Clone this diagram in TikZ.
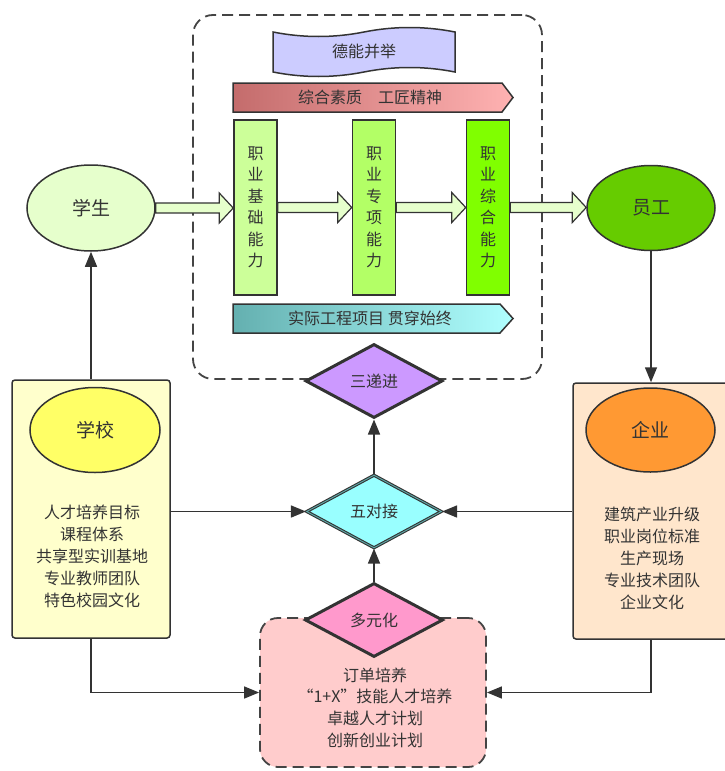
\documentclass[tikz,border=0pt]{standalone}
\usepackage{fontspec}
\setmainfont{Noto Sans CJK SC}
\usetikzlibrary{shapes.geometric,arrows.meta,calc}
\definecolor{ln}{HTML}{333333}
\definecolor{dashc}{HTML}{444444}
\definecolor{stuc}{HTML}{E6FFCC}
\definecolor{empc}{HTML}{66CC00}
\definecolor{schc}{HTML}{FFFFCC}
\definecolor{schell}{HTML}{FFFF66}
\definecolor{entc}{HTML}{FFE6CC}
\definecolor{entell}{HTML}{FF9933}
\definecolor{sdjc}{HTML}{CC99FF}
\definecolor{wdjc}{HTML}{99FFFF}
\definecolor{wdjin}{HTML}{5FA8A8}
\definecolor{dyhc}{HTML}{FF99CC}
\definecolor{botc}{HTML}{FFCCCC}
\definecolor{dnbjc}{HTML}{CCCCFF}
\definecolor{bxa}{HTML}{CCFF99}
\definecolor{bxb}{HTML}{B3FF66}
\definecolor{bxc}{HTML}{80FF00}
\definecolor{arrc}{HTML}{E6FFCC}
\definecolor{redL}{RGB}{196,108,108}
\definecolor{redR}{RGB}{255,178,178}
\definecolor{cyL}{RGB}{100,176,176}
\definecolor{cyR}{RGB}{176,255,255}
\newcommand\blockarrow[2]{%
  \draw[draw=ln, line width=1.2pt, fill=arrc, line join=miter]
    let \p1=(#1), \p2=(#2) in
    (\x1,\y1+5pt) -- (\x2-14pt,\y1+5pt) -- (\x2-14pt,\y1+15pt) -- (\x2,\y1)
    -- (\x2-14pt,\y1-15pt) -- (\x2-14pt,\y1-5pt) -- (\x1,\y1-5pt) -- cycle;}
\begin{document}
\begin{tikzpicture}[x=1pt,y=-1pt,
  every node/.style={text=ln, font=\fontsize{16}{21.5}\selectfont},
  conn/.style={draw=ln, line width=1.5pt, -{Triangle[length=15pt,width=12pt]}},
  ell/.style={ellipse, draw=ln, line width=1.5pt, inner sep=0pt, font=\fontsize{19}{22}\selectfont},
  vbox/.style={rectangle, draw=ln, line width=1.5pt, inner sep=0pt, align=center, minimum width=43pt, minimum height=175pt},
  dia/.style={diamond, draw=ln, line width=3pt, inner sep=0pt, aspect=1.85},
  panel/.style={rectangle, draw=ln, line width=1.5pt, rounded corners=3pt, inner sep=0pt},
  dashbox/.style={rectangle, draw=dashc, line width=1.8pt, dash pattern=on 11pt off 6pt, rounded corners=20pt, inner sep=0pt},
  list/.style={align=center, font=\fontsize{16}{22}\selectfont},
  banner/.style={draw=ln, line width=1.5pt, line join=miter}
]
\useasboundingbox (0,0) rectangle (725,771);

% upper stage
\node[dashbox, minimum width=349pt, minimum height=364pt] (stage) at (367.5,197) {};

% wave banner
\draw[banner, fill=dnbjc] (273,32) .. controls (303.3,38) and (333.7,38) .. (364,32)
  .. controls (394.3,26) and (424.7,26) .. (455,32) -- (455,72)
  .. controls (424.7,66) and (394.3,66) .. (364,72)
  .. controls (333.7,78) and (303.3,78) .. (273,72) -- cycle;
\node (dnbj) at (364,51) {德能并举};

% banner arrows
\draw[banner, left color=redL, right color=redR] (233,83) -- (502,83) -- (513,97.5) -- (502,112) -- (233,112) -- cycle;
\node (zhsz) at (370,97.5) {综合素质\quad 工匠精神};
\draw[banner, left color=cyL, right color=cyR] (233,304) -- (500,304) -- (513,318.5) -- (500,333) -- (233,333) -- cycle;
\node (sjgc) at (370,318.5) {实际工程项目 贯穿始终};

% three ability boxes
\node[vbox, fill=bxa] (b1) at (255.5,207.5) {职\\业\\基\\础\\能\\力};
\node[vbox, fill=bxb] (b2) at (374,207.5) {职\\业\\专\\项\\能\\力};
\node[vbox, fill=bxc] (b3) at (488,207.5) {职\\业\\综\\合\\能\\力};

% student / employee
\node[ell, fill=stuc, minimum width=128pt, minimum height=86pt] (stu) at (91,208) {学生};
\node[ell, fill=empc, minimum width=128pt, minimum height=85pt] (emp) at (651,208) {员工};

\blockarrow{stu.east}{b1.west |- stu.east}
\blockarrow{b1.east}{b2.west |- b1.east}
\blockarrow{b2.east}{b3.west |- b2.east}
\blockarrow{b3.east}{emp.west |- b3.east}

% school panel
\node[panel, fill=schc, minimum width=158pt, minimum height=258pt] (schoolbox) at (91,509) {};
\node[ell, fill=schell, minimum width=130pt, minimum height=85pt] (sch) at (95,430) {学校};
\node[list] (schtxt) at (92,556) {人才培养目标\\课程体系\\共享型实训基地\\专业教师团队\\特色校园文化};

% enterprise panel
\node[panel, fill=entc, minimum width=156pt, minimum height=256pt] (entbox) at (651,511) {};
\node[ell, fill=entell, minimum width=129pt, minimum height=84pt] (ent) at (650.5,430) {企业};
\node[list] (enttxt) at (652,558.5) {建筑产业升级\\职业岗位标准\\生产现场\\专业技术团队\\企业文化};

% bottom panel
\node[dashbox, fill=botc, minimum width=226pt, minimum height=149pt, rounded corners=18pt] (bot) at (373,692.5) {};
\node[list, font=\fontsize{16}{21.7}\selectfont] (bottxt) at (375,707.5) {订单培养\\“1+X”技能人才培养\\卓越人才计划\\创新创业计划};

% diamonds
\node[dia, fill=sdjc, minimum width=137pt, minimum height=74pt] (sdj) at (374,381) {三递进};
\node[dia, fill=wdjc, draw=ln, line width=1.1pt, double=wdjin, double distance=0.9pt, minimum width=135pt, minimum height=73pt] (wdj) at (374,511.5) {五对接};
\node[dia, fill=dyhc, minimum width=138pt, minimum height=74pt] (dyh) at (374,620) {多元化};

% connectors
\draw[conn] (schoolbox.north) -- (stu.south);
\draw[conn] (emp.south) -- (emp.south |- entbox.north);
\draw[conn] (schoolbox.east |- wdj.west) -- (wdj.west);
\draw[conn] (entbox.west |- wdj.east) -- (wdj.east);
\draw[conn] (dyh.north) -- (wdj.south);
\draw[conn] (wdj.north) -- (sdj.south);
\draw[conn] (schoolbox.south) |- (bot.west);
\draw[conn] (entbox.south) |- (bot.east);
\end{tikzpicture}
\end{document}
